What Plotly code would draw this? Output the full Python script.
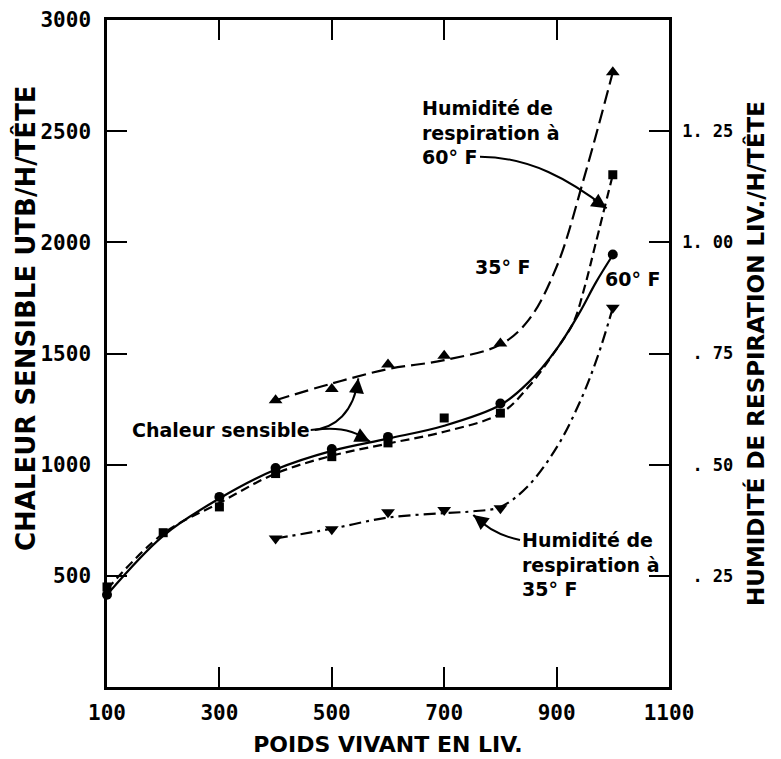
import plotly.graph_objects as go

# Live weight (lb) at which each quantity was measured
weight_heat35 = [400, 500, 600, 700, 800, 1000]
heat35 = [1290, 1340, 1450, 1490, 1545, 2765]          # sensible heat, BTU/h/head, 35°F
weight_heat60 = [100, 300, 400, 500, 600, 800, 1000]
heat60 = [415, 855, 985, 1070, 1125, 1275, 1945]       # sensible heat, BTU/h/head, 60°F
weight_hum60 = [100, 200, 300, 400, 500, 600, 700, 800, 1000]
hum60 = [0.225, 0.347, 0.405, 0.48, 0.518, 0.549, 0.605, 0.616, 1.152]  # respiration moisture, lb/h/head, 60°F
weight_hum35 = [400, 500, 600, 700, 800, 1000]
hum35 = [0.334, 0.355, 0.393, 0.398, 0.402, 0.853]     # respiration moisture, lb/h/head, 35°F

# Hand-fitted trend curves through each series
fit_weight_heat35 = [400, 500, 600, 700, 800, 850, 900, 950, 1000]
fit_heat35 = [1290, 1365, 1430, 1470, 1540, 1650, 1890, 2300, 2765]
fit_weight_heat60 = [100, 200, 300, 400, 500, 600, 700, 800, 850, 900, 940, 970, 1000]
fit_heat60 = [415, 680, 848, 978, 1062, 1117, 1175, 1268, 1370, 1520, 1680, 1820, 1943]
fit_weight_hum60 = [100, 200, 300, 400, 500, 600, 700, 800, 850, 900, 930, 950, 970, 1000]
fit_hum60 = [0.22, 0.345, 0.414, 0.48, 0.52, 0.5475, 0.574, 0.615, 0.675, 0.76, 0.82, 0.90, 1.0, 1.152]
fit_weight_hum35 = [400, 500, 600, 700, 750, 800, 848, 901, 943, 973, 1000]
fit_hum35 = [0.334, 0.356, 0.381, 0.391, 0.395, 0.405, 0.4505, 0.5405, 0.6455, 0.743, 0.8525]

# Axis ticks
x_ticks = [100, 300, 500, 700, 900, 1100]
heat_ticks = [500, 1000, 1500, 2000, 2500, 3000]
hum_ticks = [0.25, 0.50, 0.75, 1.00, 1.25]
hum_ticktext = ["\u00a0. 25", "\u00a0. 50", "\u00a0. 75", "1. 00", "1. 25"]

INK = "black"
LW = 2.2

fig = go.Figure()


def curve(x, y, dash, yaxis="y"):
    fig.add_trace(go.Scatter(
        x=x, y=y, mode="lines", yaxis=yaxis, cliponaxis=False,
        line=dict(color=INK, width=LW, dash=dash, shape="spline", smoothing=1.0),
        hoverinfo="skip"))


def points(x, y, symbol, size, yaxis="y"):
    fig.add_trace(go.Scatter(
        x=x, y=y, mode="markers", yaxis=yaxis, cliponaxis=False,
        marker=dict(symbol=symbol, size=size, color=INK, line=dict(width=0))))


curve(fit_weight_heat35, fit_heat35, "14px,6px")
curve(fit_weight_heat60, fit_heat60, "solid")
curve(fit_weight_hum60, fit_hum60, "9px,5px", "y2")
curve(fit_weight_hum35, fit_hum35, "12px,5px,3px,5px", "y2")

points(weight_heat35, heat35, "triangle-up", 12)
points(weight_heat60, heat60, "circle", 10)
points(weight_hum60, hum60, "square", 9, "y2")
points(weight_hum35, hum35, "triangle-down", 12, "y2")

# Curved leader lines (data coordinates of the heat axis)
leaders = [
    "M 763.7,2385 C 852.7,2384 923.8,2280 989.1,2153",
    "M 462.5,1156 C 505.7,1160 539.5,1237 547.2,1388.5",
    "M 469.6,1156 C 505.7,1169.5 541.3,1156 568,1103",
    "M 834.9,661.2 C 808.2,674.7 777.9,706.2 751.8,773.6",
]
shapes = [dict(type="path", path=p, xref="x", yref="y",
               line=dict(color=INK, width=2)) for p in leaders]

# Arrow heads at the end of each leader
heads = [(989.1, 2153, -15, -10), (547.2, 1388.5, -2, 16),
         (568, 1103, -12, -6), (751.8, 773.6, 13, 10)]
annotations = [dict(x=x, y=y, xref="x", yref="y", ax=ax, ay=ay, text="",
                    font=dict(size=1), showarrow=True, arrowhead=2,
                    arrowsize=1.5, arrowwidth=2, arrowcolor=INK)
               for x, y, ax, ay in heads]

LABEL_FONT = dict(family="DejaVu Sans", size=19, color=INK, weight="bold")
annotations += [
    dict(x=657, y=2496, xref="x", yref="y", xanchor="left", yanchor="middle",
         align="left", showarrow=False, font=LABEL_FONT,
         text="Humidité de<br>respiration à<br>60° F"),
    dict(x=141, y=1156, xref="x", yref="y", xanchor="left", yanchor="middle",
         showarrow=False, font=LABEL_FONT, text="Chaleur sensible"),
    dict(x=835, y=549, xref="x", yref="y", xanchor="left", yanchor="middle",
         align="left", showarrow=False, font=LABEL_FONT,
         text="Humidité de<br>respiration à<br>35° F"),
    dict(x=805, y=1889, xref="x", yref="y", showarrow=False, font=LABEL_FONT,
         text="35° F"),
    dict(x=1036, y=1835, xref="x", yref="y", showarrow=False, font=LABEL_FONT,
         text="60° F"),
]

TITLE_FONT = dict(family="DejaVu Sans", color=INK, weight="bold")

# Left axis title, set slightly above the axis centre
annotations.append(dict(
    x=-0.146, y=0.553, xref="paper", yref="paper", textangle=-90,
    xanchor="center", yanchor="middle", showarrow=False,
    text="CHALEUR SENSIBLE UTB/H/TÊTE", font=dict(size=26, **TITLE_FONT)))

TICK_FONT = dict(family="DejaVu Sans Mono", size=21, color=INK, weight="bold")
axis_common = dict(showgrid=False, zeroline=False, showline=True, linecolor=INK,
                   linewidth=2.5, ticks="inside", ticklen=20, tickwidth=2,
                   tickcolor=INK, automargin=False)

fig.update_layout(
    width=781, height=759,
    margin=dict(l=107, r=112, t=20, b=72),
    paper_bgcolor="white", plot_bgcolor="white",
    showlegend=False,
    shapes=shapes,
    annotations=annotations,
    xaxis=dict(range=[100, 1100], tickvals=x_ticks, mirror="ticks",
               tickfont=TICK_FONT, ticklabelstandoff=5,
               title=dict(text="POIDS VIVANT EN LIV.", standoff=13,
                          font=dict(size=22, **TITLE_FONT)),
               **axis_common),
    yaxis=dict(range=[0, 3000], tickvals=heat_ticks,
               tickfont=TICK_FONT, ticklabelstandoff=9,
               **axis_common),
    yaxis2=dict(range=[0, 1.5], overlaying="y", side="right",
                tickvals=hum_ticks, ticktext=hum_ticktext,
                tickfont=dict(family="DejaVu Sans Mono", size=17, color=INK, weight="bold"),
                ticklabelstandoff=7,
                title=dict(text="HUMIDITÉ DE RESPIRATION LIV./H/TÊTE", standoff=16,
                           font=dict(size=23, **TITLE_FONT)),
                **axis_common),
)

fig.write_html("out.html")
